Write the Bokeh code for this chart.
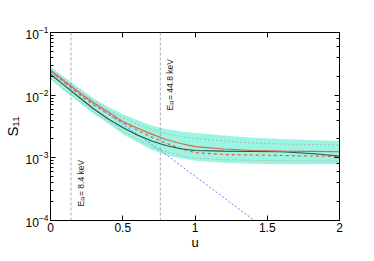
import math
from bokeh.plotting import figure
from bokeh.models import (Range1d, LinearAxis, LogAxis, FixedTicker, Label,
                          CustomJSTickFormatter, Span)
from bokeh.embed import file_html
from bokeh.resources import INLINE

# ---------------- data ----------------
u = [0.0, 0.1, 0.2, 0.3, 0.4, 0.5, 0.6, 0.7, 0.8, 0.9, 1.0, 1.2, 1.4, 1.6, 1.8, 2.0]
band_upper = [0.0283, 0.0192, 0.0130, 0.00886, 0.00647, 0.00500, 0.00401, 0.00327,
              0.00288, 0.00263, 0.00248, 0.00227, 0.00210, 0.00199, 0.00192, 0.00185]
band_lower = [0.0180, 0.01146, 0.00764, 0.00500, 0.00353, 0.00239, 0.00178, 0.00135,
              0.00111, 0.000989, 0.000902, 0.000838, 0.000808, 0.000793, 0.000793, 0.000793]
grey_upper = [0.02625, 0.01751, 0.01189, 0.00808, 0.00580, 0.00440, 0.00346, 0.00283,
              0.00244, 0.00218, 0.00203, 0.00185, 0.00172, 0.00166, 0.00163, 0.00160]
grey_lower = [0.01884, 0.01211, 0.00808, 0.00539, 0.00380, 0.00267, 0.00199, 0.00151,
              0.00126, 0.00108, 0.000989, 0.000936, 0.000909, 0.000902, 0.000892, 0.000886]
red_solid = [0.0250, 0.01656, 0.01105, 0.00750, 0.00539, 0.00380, 0.00299, 0.00239,
             0.00196, 0.00169, 0.00151, 0.00138, 0.00131, 0.00128, 0.00127, 0.00125]
red_dashed = [0.02394, 0.01567, 0.01026, 0.00697, 0.00500, 0.00366, 0.00277, 0.00214,
              0.00172, 0.00140, 0.00121, 0.00113, 0.00111, 0.00109, 0.00107, 0.00105]
black_solid = [0.0216, 0.01404, 0.00919, 0.00602, 0.00416, 0.00304, 0.00231, 0.00185,
               0.00157, 0.00140, 0.00131, 0.00128, 0.00127, 0.00125, 0.00117, 0.00107]
u_blue = [0.0, 0.2, 0.4, 0.6, 0.8, 1.0, 1.2, 1.4, 1.5]
blue_dotted = [0.0235, 0.01065, 0.00500, 0.00239, 0.001125, 0.000510, 0.000231,
               0.0001045, 0.0000697]
u_markers = [0.142, 0.76]
marker_texts = ["= 8.4 keV", "= 44.8 keV"]
x_ticks = [0, 0.5, 1, 1.5, 2]
x_tick_labels = ["0", "0.5", "1", "1.5", "2"]
x_title = "u"
y_title = "S\u2081\u2081"

FONT = "Liberation Sans"

p = figure(width=366, height=253, output_backend="svg", toolbar_location=None,
           y_axis_type="log", x_range=Range1d(0, 2), y_range=Range1d(1e-4, 1e-1),
           min_border_left=49, min_border_right=27, min_border_top=32, min_border_bottom=33)
p.grid.visible = False
p.outline_line_color = "black"
p.outline_line_width = 1
p.background_fill_color = "white"
p.border_fill_color = "white"

# band
p.varea(x=u, y1=band_lower, y2=band_upper, fill_color="#9af5e1", fill_alpha=1.0)
# grey dotted
p.line(u, grey_upper, line_color="#b0bab8", line_width=1, line_dash="2 2")
p.line(u, grey_lower, line_color="#b0bab8", line_width=1, line_dash="2 2")
# vertical markers
for xm in u_markers:
    p.add_layout(Span(location=xm, dimension="height", line_color="#999999",
                      line_width=0.8, line_dash="3 2"))
# curves
p.line(u_blue, blue_dotted, line_color="#6f7dfa", line_width=1, line_dash="2 2")
p.line(u, red_dashed, line_color="#e2604a", line_width=1.2, line_dash="3 3")
p.line(u, black_solid, line_color="#3a4a48", line_width=1.1)
p.line(u, red_solid, line_color="#e2604a", line_width=1.1)

# axes styling
def style_axis(ax):
    ax.axis_line_color = "black"
    ax.axis_line_width = 1
    ax.major_tick_in = 5
    ax.major_tick_out = 0
    ax.minor_tick_in = 3
    ax.minor_tick_out = 0
    ax.major_tick_line_color = "black"
    ax.minor_tick_line_color = "black"
    ax.major_label_text_font = FONT
    ax.major_label_text_font_size = "12px"
    ax.major_label_text_color = "black"
    ax.axis_label_text_font = FONT
    ax.axis_label_text_font_style = "normal"
    ax.axis_label_text_color = "black"

xa = p.xaxis[0]
style_axis(xa)
xa.ticker = FixedTicker(ticks=x_ticks)
xa.major_label_overrides = {t: l for t, l in zip(x_ticks, x_tick_labels)}
xa.minor_tick_in = 0
xa.major_label_standoff = 2
xa.axis_label = x_title
xa.axis_label_text_font_size = "13px"
xa.axis_label_standoff = 0

ya = p.yaxis[0]
style_axis(ya)
ya.major_label_standoff = 2
ya.axis_label = y_title
ya.axis_label_text_font_size = "15px"
ya.axis_label_standoff = 2

blank = CustomJSTickFormatter(code="return '';")
top = LinearAxis(ticker=FixedTicker(ticks=x_ticks), formatter=blank)
style_axis(top)
top.minor_tick_in = 0
p.add_layout(top, "above")
right = LogAxis(formatter=blank)
style_axis(right)
p.add_layout(right, "right")

# marker labels (E_R = ...)
y_starts = [14, 110]
for xm, txt, y0 in zip(u_markers, marker_texts, y_starts):
    p.add_layout(Label(x=xm, y=1e-4, x_offset=10, y_offset=y0, text="E", angle=math.pi / 2,
                       text_align="left", text_baseline="alphabetic",
                       text_font=FONT, text_font_size="8.5px", text_color="#222222"))
    p.add_layout(Label(x=xm, y=1e-4, x_offset=11.5, y_offset=y0 + 5.8, text="R",
                       angle=math.pi / 2, text_align="left", text_baseline="alphabetic",
                       text_font=FONT, text_font_size="6px", text_color="#222222"))
    p.add_layout(Label(x=xm, y=1e-4, x_offset=10, y_offset=y0 + 10.5, text=txt,
                       angle=math.pi / 2, text_align="left", text_baseline="alphabetic",
                       text_font=FONT, text_font_size="8.5px", text_color="#222222"))

open("out.html", "w").write(file_html(p, INLINE))
